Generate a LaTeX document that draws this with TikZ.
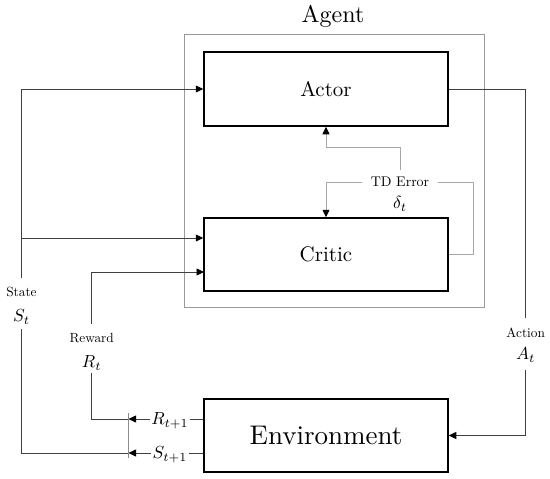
\documentclass[tikz,border=0pt]{standalone}
\usetikzlibrary{arrows.meta}
\newcommand\sztxt[2]{\scalebox{#1}{#2}}
\newcommand\smalltxt[1]{\scalebox{1.33}{#1}}
\newcommand\mathtxt[1]{\scalebox{1.75}{$#1$}}
\begin{document}
\begin{tikzpicture}[x=1pt,y=-1pt,
  box/.style={draw=black,line width=1.5pt,inner sep=0pt},
  conn/.style={draw=black!75,line width=0.8pt},
  tdline/.style={draw=black!35,line width=0.8pt},
  tip/.style={-{Triangle[length=7.5pt,width=7pt,color=black]}},
  lbl/.style={inner sep=0pt}]
\useasboundingbox (0,0) rectangle (550,479);

% agent frame
\node[draw=black!40,line width=0.8pt,minimum width=299.5pt,minimum height=273pt,inner sep=0pt] (agentbox) at (334.25,171) {};
\node[lbl] (agentlbl) at (333,16.5) {\sztxt{2.4}{Agent}};

% main boxes
\node[box,minimum width=244pt,minimum height=74pt] (actor) at (326,89) {\sztxt{2.1}{Actor}};
\node[box,minimum width=244pt,minimum height=73pt] (critic) at (326,254.5) {\sztxt{2.1}{Critic}};
\node[box,minimum width=244pt,minimum height=73pt] (env) at (326,435.5) {\sztxt{2.7}{Environment}};

% labels
\node[lbl] (statelbl) at (21.5,292) {\smalltxt{State}};
\node[lbl] (stlbl) at (21.5,317) {\mathtxt{S_t}};
\node[lbl] (rewardlbl) at (91.7,338) {\smalltxt{Reward}};
\node[lbl] (rtlbl) at (91.7,363) {\mathtxt{R_t}};
\node[lbl] (actionlbl) at (525.7,332.5) {\smalltxt{Action}};
\node[lbl] (atlbl) at (525.7,355) {\mathtxt{A_t}};
\node[lbl] (tdlbl) at (400,182) {\sztxt{1.4}{TD Error}};
\node[lbl] (deltalbl) at (400,204) {\mathtxt{\delta_t}};

% coordinates
\coordinate (stUp) at (21.5,278);
\coordinate (stDown) at (21.5,329);
\coordinate (stCritic) at (21.5,238);
\coordinate (rwUp) at (91.7,324);
\coordinate (rwDown) at (91.7,373);
\coordinate (rwCritic) at (204,272);
\coordinate (sepTop) at (128.5,413);
\coordinate (sepBot) at (128.5,458);
\coordinate (sepR) at (128.5,419);
\coordinate (sepS) at (128.5,453);
\coordinate (actUp) at (525.7,318);
\coordinate (actDown) at (525.7,370);
\coordinate (tdRight) at (473,182);
\coordinate (tdLabR) at (438,182);
\coordinate (tdLabL) at (361.7,182);
\coordinate (tdUp) at (400,170);
\coordinate (tdBend) at (326,147);

% state
\draw[conn,tip] (stUp) |- (actor.west);
\draw[conn,tip] (stCritic) -- (critic.west |- stCritic);
\draw[conn] (stDown) |- (sepS);
% reward
\draw[conn,tip] (rwUp) |- (rwCritic);
\draw[conn] (rwDown) |- (sepR);
% separator
\draw[draw=black!45,line width=0.6pt] (sepTop) -- (sepBot);
% environment outputs
\draw[conn,tip] (env.west |- sepR) -- (sepR);
\draw[conn,tip] (env.west |- sepS) -- (sepS);
\node[fill=white,inner sep=1.5pt] (rt1) at (170,420.5) {\mathtxt{R_{t+1}}};
\node[fill=white,inner sep=1.5pt] (st1) at (170,454.5) {\mathtxt{S_{t+1}}};
% action
\draw[conn] (actor.east) -| (actUp);
\draw[conn,tip] (actDown) |- (env.east);
% TD error
\draw[tdline] (critic.east) -| (tdRight) -- (tdLabR);
\draw[tdline,tip] (tdLabL) -| (critic.north);
\draw[tdline,tip] (tdUp) |- (tdBend) -- (actor.south);
\end{tikzpicture}
\end{document}
